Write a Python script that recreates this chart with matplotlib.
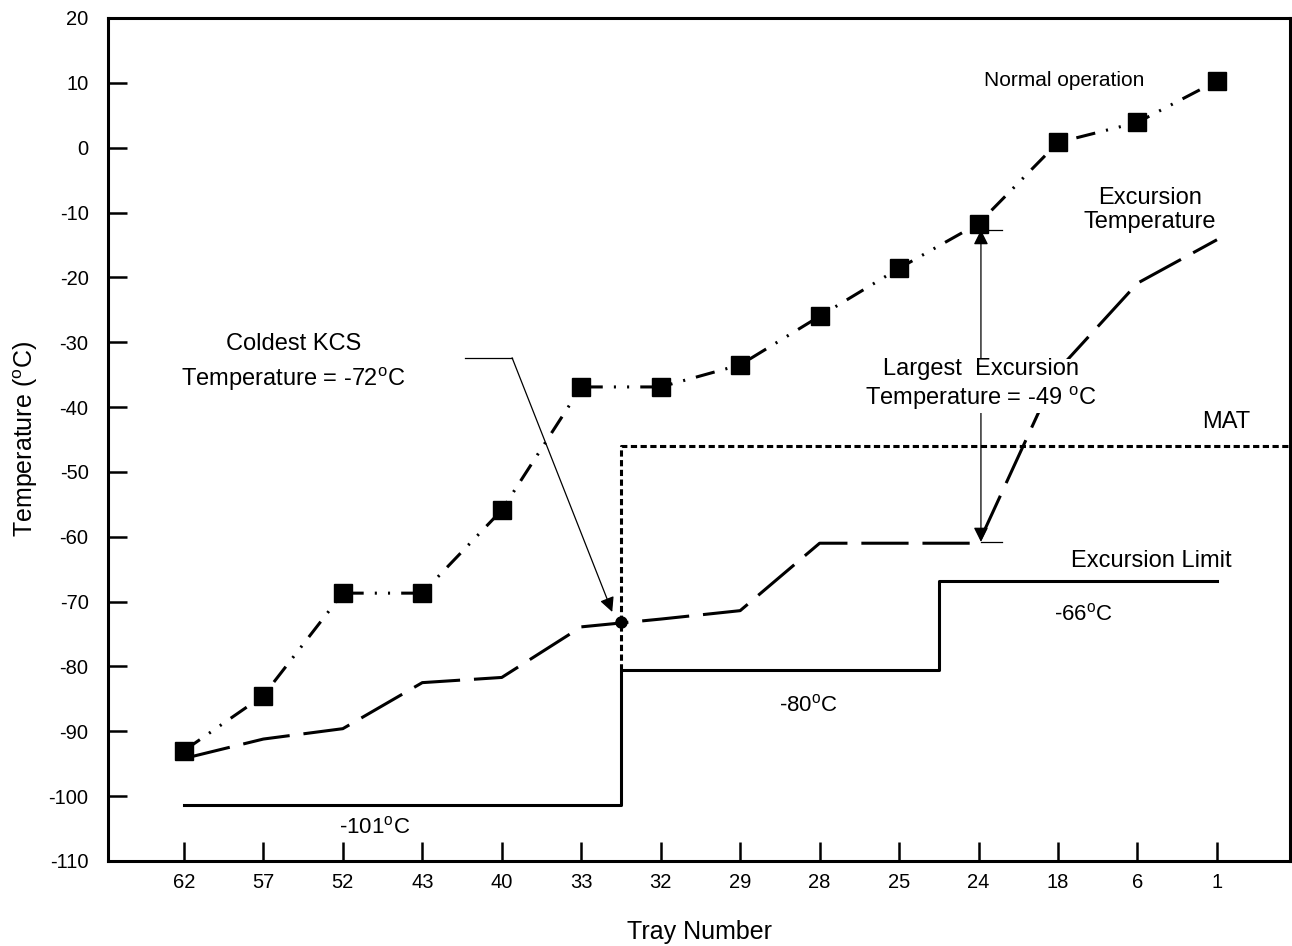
import numpy as np
import matplotlib
matplotlib.use("Agg")
import matplotlib.pyplot as plt

plt.rcParams['font.family'] = ['Liberation Sans', 'DejaVu Sans']
plt.rcParams['mathtext.fontset'] = 'custom'
plt.rcParams['mathtext.rm'] = 'Liberation Sans'
plt.rcParams['lines.scale_dashes'] = False
plt.rcParams['axes.unicode_minus'] = False

# data
trays = ['62', '57', '52', '43', '40', '33', '32', '29', '28', '25', '24', '18', '6', '1']
normal_op = [-93.0, -84.5, -68.7, -68.7, -55.9, -36.9, -36.9, -33.5, -26.0, -18.6, -11.7, 0.8, 3.9, 10.3]
excursion = [-94.2, -91.2, -89.6, -82.5, -81.7, -73.9, -72.7, -71.4, -61.0, -61.0, -61.0, -34.3, -20.9, -14.2]
# step lines: MAT and excursion limit (x in tray-slot units)
mat_x = [5.5, 5.5, 14.5]
mat_y = [-80.5, -46.0, -46.0]
limit_x = [0, 5.5, 5.5, 9.5, 9.5, 13]
limit_y = [-101.3, -101.3, -80.5, -80.5, -66.8, -66.8]
coldest = (5.5, -73.2)
largest_top, largest_bot = -12.7, -60.8

x = np.arange(len(trays))

fig = plt.figure(figsize=(12.92, 9.46), dpi=100)
ax = fig.add_axes([0.0836, 0.0899, 0.9149, 0.8911])

ax.plot(x, normal_op, color='black', lw=2.2, marker='s', ms=13,
        dashes=(14, 8, 1.5, 8, 1.5, 8), zorder=3)
ax.plot(x, excursion, color='black', lw=2.2, dashes=(34, 10), zorder=3)
ax.plot(mat_x, mat_y, color='black', lw=2.2, dashes=(4.5, 2.5), zorder=2)
ax.plot(limit_x, limit_y, color='black', lw=2.2, zorder=2)
ax.plot(*coldest, 'o', color='black', ms=8, zorder=4)

# coldest KCS annotation
ax.plot([3.54, 4.13], [-32.4, -32.4], color='black', lw=0.9)
ax.annotate('', xy=(5.39, -71.6), xytext=(4.13, -32.4),
            arrowprops=dict(arrowstyle='-|>', color='black', lw=0.9,
                            mutation_scale=22, shrinkA=0, shrinkB=0))
ax.text(1.38, -33.2, 'Coldest KCS\nTemperature = -72$^{\\rm o}$C', ha='center', va='center',
        fontsize=17, linespacing=1.45)

# largest excursion annotation
ax.annotate('', xy=(10.03, largest_bot), xytext=(10.03, largest_top),
            arrowprops=dict(arrowstyle='<|-|>', color='black', lw=0.9,
                            mutation_scale=22, shrinkA=0, shrinkB=0))
ax.plot([10.03, 10.3], [largest_top, largest_top], color='black', lw=0.9)
ax.plot([10.03, 10.3], [largest_bot, largest_bot], color='black', lw=0.9)
ax.text(10.03, -36.6, 'Largest  Excursion\nTemperature = -49 $^{\\rm o}$C', ha='center', va='center',
        fontsize=17, linespacing=1.15, zorder=5,
        bbox=dict(facecolor='white', edgecolor='none', pad=1))

ax.text(11.08, 10.4, 'Normal operation', ha='center', va='center', fontsize=15)
ax.text(12.16, -9.6, 'Excursion\nTemperature', ha='center', va='center', fontsize=17, linespacing=1.15)
ax.text(13.11, -42.3, 'MAT', ha='center', va='center', fontsize=17)
ax.text(12.17, -63.7, 'Excursion Limit', ha='center', va='center', fontsize=17)
ax.text(11.32, -72.0, '-66$^{\\rm o}$C', ha='center', va='center', fontsize=16)
ax.text(7.86, -86.0, '-80$^{\\rm o}$C', ha='center', va='center', fontsize=16)
ax.text(2.4, -104.9, '-101$^{\\rm o}$C', ha='center', va='center', fontsize=16)

ax.set_xlim(-0.955, 13.92)
ax.set_ylim(-110, 20)
ax.set_xticks(x)
ax.set_xticklabels(trays)
ax.set_yticks(np.arange(-110, 21, 10))
ax.tick_params(direction='in', length=14, width=1.8, labelsize=14.5, pad=9)
ax.tick_params(axis='y', pad=14)
for s in ax.spines.values():
    s.set_linewidth(2.2)

ax.set_xlabel('Tray Number', fontsize=18, labelpad=20)
ax.set_ylabel('Temperature ($^{\\rm o}$C)', fontsize=18, labelpad=6)

fig.savefig('out.png', dpi=100)
